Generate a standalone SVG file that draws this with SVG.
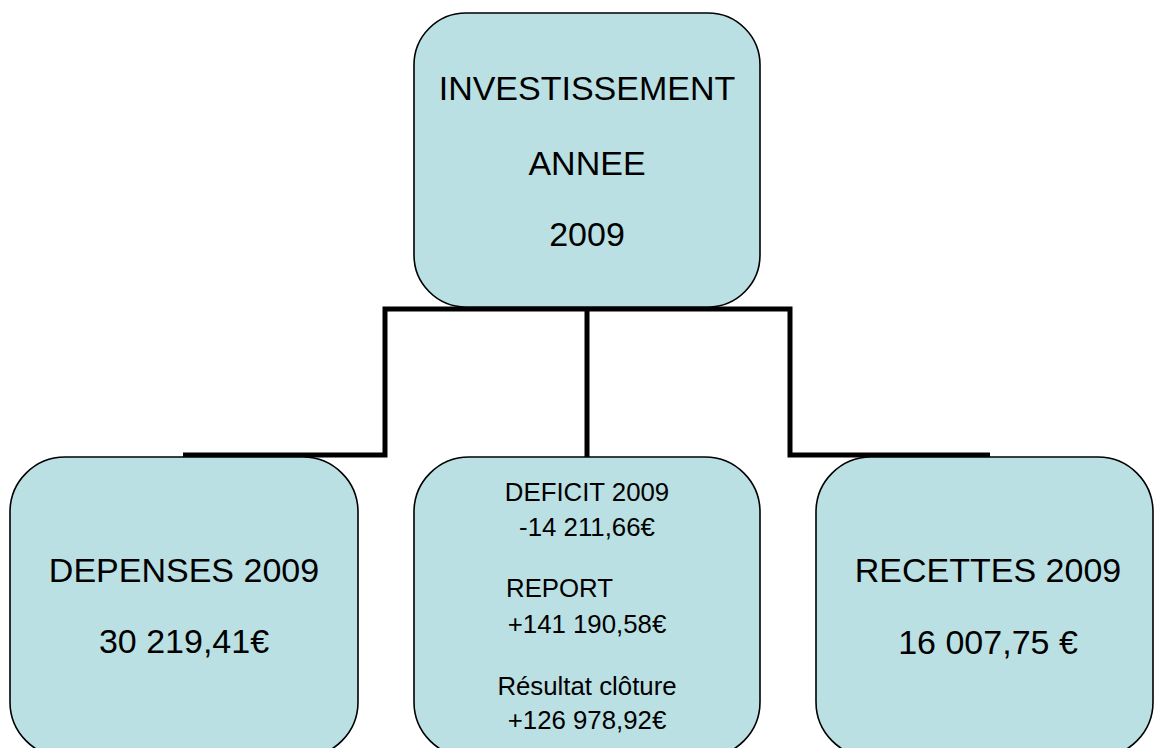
<svg xmlns="http://www.w3.org/2000/svg" width="1154" height="748" viewBox="0 0 1154 748">
<style>
.node{fill:#BAE0E3;stroke:#000;stroke-width:1.6}
.conn{fill:none;stroke:#000;stroke-width:5;stroke-linejoin:miter;stroke-linecap:butt}
text{font-family:"Liberation Sans",Arial,sans-serif;fill:#000}
.big{font-size:34px;text-anchor:middle}
.sm{font-size:25.8px}
.mid{text-anchor:middle}
</style>
<rect width="1154" height="748" fill="#fff"/>
<g id="connectors">
<path class="conn" d="M183,455 H385 V309 H790 V455 H990"/>
<path class="conn" d="M587,309 V457"/>
</g>
<g id="node-investissement">
<rect class="node" x="414" y="13" width="346" height="294" rx="52" ry="52"/>
<text class="big" x="587" y="100">INVESTISSEMENT</text>
<text class="big" x="587" y="175">ANNEE</text>
<text class="big" x="587" y="246">2009</text>
</g>
<g id="node-depenses">
<rect class="node" x="10" y="457" width="348" height="300" rx="55" ry="55"/>
<text class="big" x="184" y="582">DEPENSES 2009</text>
<text class="big" x="184" y="653">30 219,41€</text>
</g>
<g id="node-deficit">
<rect class="node" x="414" y="457" width="346" height="300" rx="55" ry="55"/>
<text class="sm mid" x="587" y="501">DEFICIT 2009</text>
<text class="sm mid" x="587" y="536">-14 211,66€</text>
<text class="sm" x="506" y="597">REPORT</text>
<text class="sm mid" x="587" y="633">+141 190,58€</text>
<text class="sm mid" x="587" y="695">Résultat clôture</text>
<text class="sm mid" x="587" y="729">+126 978,92€</text>
</g>
<g id="node-recettes">
<rect class="node" x="816" y="457" width="337" height="300" rx="55" ry="55"/>
<text class="big" x="988" y="582">RECETTES 2009</text>
<text class="big" x="988" y="654">16 007,75 €</text>
</g>
</svg>
